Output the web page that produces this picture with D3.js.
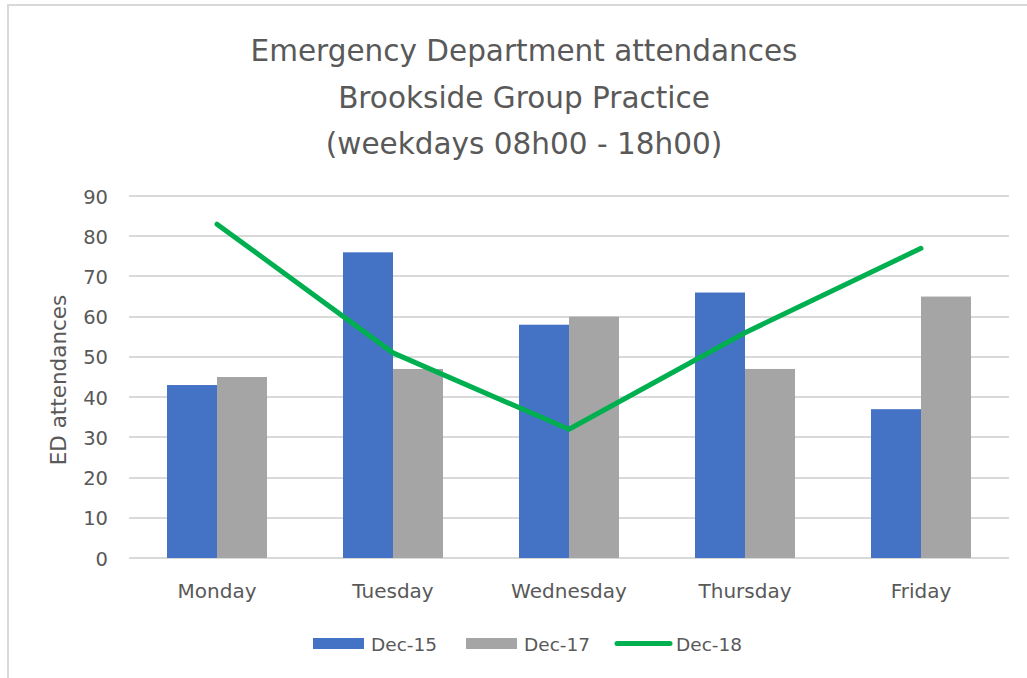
<!DOCTYPE html>
<html>
<head>
<meta charset="utf-8">
<script src="https://cdn.jsdelivr.net/npm/d3@7"></script>
<style>
  body { margin: 0; background: #fff; }
  text { font-family: "DejaVu Sans", "Open Sans", sans-serif; fill: #595959; }
</style>
</head>
<body>
<div id="chart"></div>
<script>
var days = ["Monday", "Tuesday", "Wednesday", "Thursday", "Friday"];
var dec15 = [43, 76, 58, 66, 37];
var dec17 = [45, 47, 60, 47, 65];
var dec18 = [83, 51, 32, 56, 77];
var yTicks = [0, 10, 20, 30, 40, 50, 60, 70, 80, 90];
var titleLines = ["Emergency Department attendances", "Brookside Group Practice", "(weekdays 08h00 - 18h00)"];
var seriesNames = ["Dec-15", "Dec-17", "Dec-18"];

var width = 1027, height = 678;
var blue = "#4472c4", grey = "#a5a5a5", green = "#00b050";

var svg = d3.select("#chart").append("svg")
  .attr("width", width)
  .attr("height", height);

// chart frame (right and bottom edges fall outside the picture)
svg.append("rect")
  .attr("x", 8).attr("y", 5)
  .attr("width", 1040).attr("height", 700)
  .attr("fill", "#fff")
  .attr("stroke", "#d9d9d9")
  .attr("stroke-width", 2);

// plot area
var plotL = 129, plotR = 1009, plotT = 196, plotB = 558;

var x = d3.scaleBand().domain(days).range([plotL, plotR]);
var y = d3.scaleLinear().domain([0, 90]).range([plotB, plotT]);

// title
svg.append("text")
  .attr("text-anchor", "middle")
  .style("font-size", "29.5px")
  .selectAll("tspan")
  .data(titleLines)
  .enter().append("tspan")
  .attr("x", 524)
  .attr("y", function (d, i) { return 61 + i * 46.5; })
  .text(function (d) { return d; });

// gridlines
svg.append("g").selectAll("line")
  .data(yTicks)
  .enter().append("line")
  .attr("x1", plotL).attr("x2", plotR)
  .attr("y1", function (d) { return Math.round(y(d)); })
  .attr("y2", function (d) { return Math.round(y(d)); })
  .attr("stroke", "#d9d9d9")
  .attr("stroke-width", 2);

// y axis labels
var yAxis = svg.append("g")
  .attr("transform", "translate(108,0)")
  .call(d3.axisLeft(y).tickValues(yTicks).tickSize(0).tickPadding(0));
yAxis.select(".domain").remove();
yAxis.selectAll("text")
  .style("font-size", "19.5px")
  .attr("fill", "#595959")
  .attr("dy", "0.36em");

// x axis labels
var xAxis = svg.append("g")
  .attr("transform", "translate(0," + plotB + ")")
  .call(d3.axisBottom(x).tickSize(0).tickPadding(0));
xAxis.select(".domain").remove();
xAxis.selectAll("text")
  .style("font-size", "20px")
  .attr("fill", "#595959")
  .attr("y", 40)
  .attr("dy", 0);

// y axis title
svg.append("text")
  .attr("transform", "translate(66,380) rotate(-90)")
  .attr("text-anchor", "middle")
  .style("font-size", "21.5px")
  .text("ED attendances");

// bars
var barW = 50;
var bars = svg.append("g");
bars.selectAll(".b15")
  .data(days)
  .enter().append("rect")
  .attr("class", "b15")
  .attr("x", function (d) { return x(d) + x.bandwidth() / 2 - barW; })
  .attr("y", function (d, i) { return y(dec15[i]); })
  .attr("width", barW)
  .attr("height", function (d, i) { return y(0) - y(dec15[i]); })
  .attr("fill", blue);

bars.selectAll(".b17")
  .data(days)
  .enter().append("rect")
  .attr("class", "b17")
  .attr("x", function (d) { return x(d) + x.bandwidth() / 2; })
  .attr("y", function (d, i) { return y(dec17[i]); })
  .attr("width", barW)
  .attr("height", function (d, i) { return y(0) - y(dec17[i]); })
  .attr("fill", grey);

// line
var line = d3.line()
  .x(function (d, i) { return x(days[i]) + x.bandwidth() / 2; })
  .y(function (d) { return y(d); });

svg.append("path")
  .datum(dec18)
  .attr("d", line)
  .attr("fill", "none")
  .attr("stroke", green)
  .attr("stroke-width", 5)
  .attr("stroke-linecap", "round")
  .attr("stroke-linejoin", "round");

// legend
var legend = svg.append("g").attr("transform", "translate(0,643.5)");
var legX = [313, 466, 617];
legend.selectAll(".sw")
  .data([blue, grey])
  .enter().append("rect")
  .attr("x", function (d, i) { return legX[i]; })
  .attr("y", -5.5)
  .attr("width", 51)
  .attr("height", 11)
  .attr("fill", function (d) { return d; });
legend.append("line")
  .attr("x1", legX[2]).attr("x2", legX[2] + 53)
  .attr("y1", 0).attr("y2", 0)
  .attr("stroke", green).attr("stroke-width", 5).attr("stroke-linecap", "round");
legend.selectAll(".lt")
  .data(seriesNames)
  .enter().append("text")
  .attr("x", function (d, i) { return i == 2 ? legX[i] + 59 : legX[i] + 58; })
  .attr("y", 7.5)
  .style("font-size", "18.5px")
  .text(function (d) { return d; });
</script>
</body>
</html>
